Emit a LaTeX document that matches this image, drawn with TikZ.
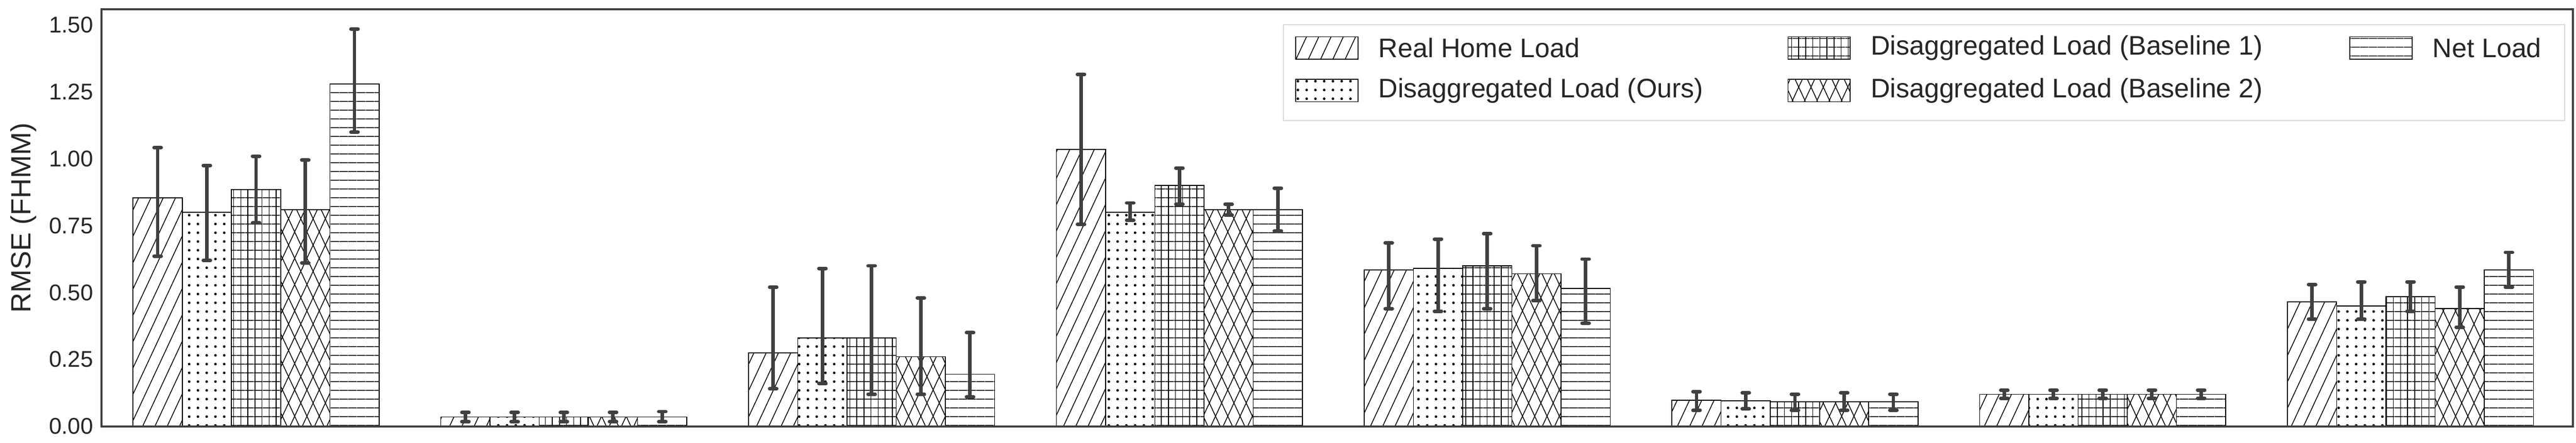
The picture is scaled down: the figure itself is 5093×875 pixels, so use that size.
\documentclass[tikz,border=0pt]{standalone}
\usepackage{fontspec}
\setmainfont{Liberation Sans}
\usetikzlibrary{patterns.meta}
\definecolor{eb}{HTML}{404040}
\tikzset{
 p0/.style={pattern={Lines[angle=65,distance=22pt,line width=1.6pt]}},
 p1/.style={pattern={Dots[distance=17pt,radius=2.6pt]}},
 p2/.style={pattern={Lines[angle=90,distance=14pt,line width=1.6pt]},postaction={pattern={Lines[angle=0,distance=17pt,line width=1.6pt]}}},
 p3/.style={pattern={Lines[angle=65,distance=22pt,line width=1.6pt]},postaction={pattern={Lines[angle=-65,distance=22pt,line width=1.6pt]}}},
 p4/.style={pattern={Lines[angle=0,distance=17pt,line width=1.6pt]}},
 barline/.style={draw=black,line width=1.6pt},
 errbar/.style={draw=eb,line width=7pt},
 tick/.style={anchor=east,font=\fontsize{45}{50}\selectfont,text=black!85},
 legtext/.style={anchor=west,font=\fontsize{53}{60}\selectfont,text=black!85},
}
\newcommand\mybar[5]{%
 \pgfmathsetmacro\xl{263+608.5*#1+97.3*#2}%
 \pgfmathsetmacro\xr{\xl+97.3}%
 \pgfmathsetmacro\xm{\xl+48.65}%
 \pgfmathsetmacro\yt{32+529*#3}%
 \pgfmathsetmacro\ylo{32+529*#4}%
 \pgfmathsetmacro\yhi{32+529*#5}%
 \path[p#2] (\xl,32) rectangle (\xr,\yt);
 \draw[barline] (\xl,32) rectangle (\xr,\yt);
 \draw[errbar] (\xm,\ylo) -- (\xm,\yhi);
 \draw[errbar,line cap=round] (\xm-7,\ylo) -- (\xm+7,\ylo);
 \draw[errbar,line cap=round] (\xm-7,\yhi) -- (\xm+7,\yhi);
}
\begin{document}
\begin{tikzpicture}[x=1pt,y=1pt]
\useasboundingbox (0,0) rectangle (5093,875);
\fill[white] (0,0) rectangle (5093,875);
% group 0
\mybar{0}{0}{0.854}{0.636}{1.042}
\mybar{0}{1}{0.80}{0.62}{0.975}
\mybar{0}{2}{0.885}{0.76}{1.01}
\mybar{0}{3}{0.81}{0.61}{0.995}
\mybar{0}{4}{1.28}{1.10}{1.485}
% group 1
\mybar{1}{0}{0.035}{0.017}{0.052}
\mybar{1}{1}{0.035}{0.017}{0.052}
\mybar{1}{2}{0.035}{0.017}{0.052}
\mybar{1}{3}{0.035}{0.017}{0.052}
\mybar{1}{4}{0.035}{0.017}{0.055}
% group 2
\mybar{2}{0}{0.275}{0.14}{0.52}
\mybar{2}{1}{0.33}{0.16}{0.59}
\mybar{2}{2}{0.33}{0.12}{0.60}
\mybar{2}{3}{0.26}{0.12}{0.48}
\mybar{2}{4}{0.195}{0.11}{0.35}
% group 3
\mybar{3}{0}{1.035}{0.755}{1.315}
\mybar{3}{1}{0.80}{0.77}{0.835}
\mybar{3}{2}{0.90}{0.83}{0.965}
\mybar{3}{3}{0.81}{0.79}{0.83}
\mybar{3}{4}{0.81}{0.73}{0.89}
% group 4
\mybar{4}{0}{0.585}{0.44}{0.685}
\mybar{4}{1}{0.59}{0.43}{0.70}
\mybar{4}{2}{0.60}{0.44}{0.72}
\mybar{4}{3}{0.57}{0.47}{0.675}
\mybar{4}{4}{0.515}{0.385}{0.625}
% group 5
\mybar{5}{0}{0.097}{0.06}{0.13}
\mybar{5}{1}{0.095}{0.065}{0.125}
\mybar{5}{2}{0.092}{0.06}{0.12}
\mybar{5}{3}{0.092}{0.06}{0.125}
\mybar{5}{4}{0.092}{0.06}{0.12}
% group 6
\mybar{6}{0}{0.12}{0.105}{0.135}
\mybar{6}{1}{0.12}{0.105}{0.135}
\mybar{6}{2}{0.12}{0.105}{0.135}
\mybar{6}{3}{0.12}{0.105}{0.135}
\mybar{6}{4}{0.12}{0.105}{0.135}
% group 7
\mybar{7}{0}{0.465}{0.40}{0.53}
\mybar{7}{1}{0.45}{0.40}{0.54}
\mybar{7}{2}{0.485}{0.43}{0.54}
\mybar{7}{3}{0.44}{0.37}{0.52}
\mybar{7}{4}{0.585}{0.52}{0.65}
% axes frame
\draw[eb,line width=4pt] (201,32) rectangle (5087,857);
% ticks
\foreach \v/\t in {0/0.00,0.25/0.25,0.5/0.50,0.75/0.75,1/1.00,1.25/1.25,1.5/1.50}
 \node[tick] (t\t) at (188,32+529*\v) {\t};
\node[rotate=90,font=\fontsize{55}{60}\selectfont,text=black!85] (yl) at (46,444) {RMSE (FHMM)};
% legend
\draw[black!15,line width=2pt,fill=white] (2537,637) rectangle (5071,826);
\foreach \px/\py/\p/\lab [count=\i] in {
 2562/802/0/Real Home Load,
 2562/718/1/Disaggregated Load (Ours),
 3535/802/2/Disaggregated Load (Baseline 1),
 3535/718/3/Disaggregated Load (Baseline 2),
 4646/802/4/Net Load}{
 \path[p\p] (\px,\py) rectangle (\px+123,\py-44);
 \draw[barline] (\px,\py) rectangle (\px+123,\py-44);
 \node[legtext] (l\i) at (\px+160,\py-22) {\lab};
}
\end{tikzpicture}
\end{document}
